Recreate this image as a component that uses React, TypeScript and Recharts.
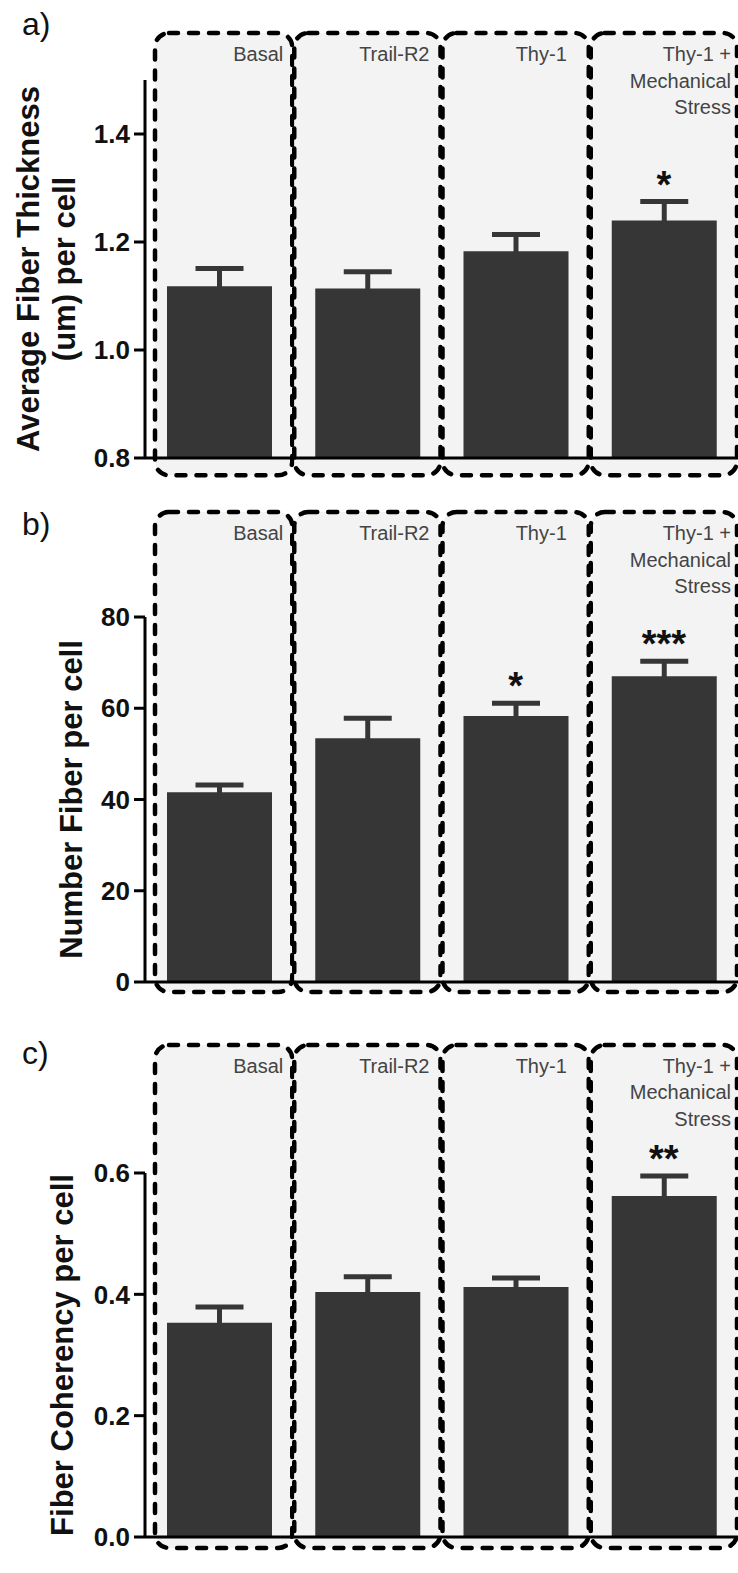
import {
  ComposedChart, Bar, ErrorBar, XAxis, YAxis, ReferenceArea, Line, LabelList,
} from "recharts";

const groups = ["Basal", "Trail-R2", "Thy-1", "Thy-1 + Mechanical Stress"];
const groupLines = [["Basal"], ["Trail-R2"], ["Thy-1"], ["Thy-1 +", "Mechanical", "Stress"]];

// a) fiber thickness
const thickMean = [1.118, 1.114, 1.183, 1.24];
const thickSem = [0.033, 0.031, 0.031, 0.035];
const thickSig = ["", "", "", "*"];
const thickTicks = [0.8, 1.0, 1.2, 1.4];

// b) fiber count
const countMean = [41.6, 53.4, 58.3, 67.0];
const countSem = [1.6, 4.4, 2.8, 3.3];
const countSig = ["", "", "*", "***"];
const countTicks = [0, 20, 40, 60, 80];

// c) coherency
const cohMean = [0.353, 0.404, 0.412, 0.562];
const cohSem = [0.026, 0.025, 0.015, 0.033];
const cohSig = ["", "", "", "**"];
const cohTicks = [0, 0.2, 0.4, 0.6];

const font = "'Liberation Sans', Arial, Helvetica, sans-serif";
const barColor = "#363636";
const labelPad = [9, 11, 22, 6];

function rows(mean: number[], sem: number[], sig: string[]) {
  return groups.map((g, i) => ({ group: g, mean: mean[i], sem: sem[i], top: mean[i] + sem[i], sig: sig[i] }));
}

function boxShape(i: number) {
  return (p: any) => {
    const left = p.x + (i === 0 ? 10 : 1);
    const right = p.x + p.width - 1;
    return (
      <g>
        <rect x={left} y={p.y} width={right - left} height={p.height} rx={14} ry={14}
          fill="#f3f3f3" stroke="#000" strokeWidth={4.5} strokeDasharray="9 11" strokeLinecap="round" />
        {groupLines[i].map((t, k) => (
          <text key={k} x={right - labelPad[i]} y={p.y + 28 + k * 26.5} textAnchor="end"
            fontSize={20} fill="#444" fontFamily={font}>{t}</text>
        ))}
      </g>
    );
  };
}

function yTitle(lines: string[], xs: number[]) {
  return (props: any) => {
    const vb = props.viewBox;
    const cy = vb.y + vb.height / 2;
    return (
      <g>
        {lines.map((t, k) => (
          <text key={k} x={xs[k]} y={cy} transform={`rotate(-90, ${xs[k]}, ${cy})`} textAnchor="middle"
            fontSize={31} fontWeight="bold" fill="#111" fontFamily={font}>{t}</text>
        ))}
      </g>
    );
  };
}

type PanelProps = {
  letter: string;
  top: number;
  height: number;
  plotTop: number;
  plotBottom: number;
  data: any[];
  domain: [number, number];
  ticks: number[];
  decimals: number;
  box: [number, number];
  title: string[];
  titleX: number[];
  letterY: number;
};

function Panel(p: PanelProps) {
  return (
    <div style={{ position: "absolute", left: 0, top: p.top, width: 738, height: p.height }}>
      <div style={{ position: "absolute", left: 22, top: p.letterY - 30, fontSize: 32, fontFamily: font, lineHeight: "36px", color: "#111" }}>
        {p.letter}
      </div>
      <ComposedChart width={738} height={p.height} data={p.data}
        margin={{ top: p.plotTop, right: 0, bottom: p.height - p.plotBottom - 30, left: 0 }}>
        {groups.map((g, i) => (
          <ReferenceArea key={g} x1={g} x2={g} y1={p.box[0]} y2={p.box[1]} ifOverflow="visible" shape={boxShape(i)} />
        ))}
        <XAxis dataKey="group" height={30} tick={false} tickSize={10} stroke="#000" strokeWidth={3} />
        <YAxis type="number" domain={p.domain} ticks={p.ticks} interval={0} allowDataOverflow width={145}
          tickSize={11} tickMargin={4} stroke="#000" strokeWidth={3}
          tick={{ fill: "#111", fontSize: 26, fontWeight: "bold", fontFamily: font }}
          tickFormatter={(v: number) => v.toFixed(p.decimals)}
          label={{ content: yTitle(p.title, p.titleX) }} />
        <Bar dataKey="mean" fill={barColor} barSize={105} isAnimationActive={false}>
          <ErrorBar dataKey="sem" width={24} strokeWidth={5} stroke={barColor} direction="y" />
        </Bar>
        <Line dataKey="top" stroke="none" dot={false} activeDot={false} isAnimationActive={false}>
          <LabelList dataKey="sig" position="top" offset={4} fill="#111" fontSize={38} fontWeight="bold" fontFamily={font} />
        </Line>
      </ComposedChart>
    </div>
  );
}

export default function App() {
  return (
    <div style={{ position: "absolute", left: 0, top: 0, width: 738, height: 1573, background: "#fff" }}>
      <Panel letter="a)" top={0} height={500} plotTop={80} plotBottom={458}
        data={rows(thickMean, thickSem, thickSig)} domain={[0.8, 1.5]} ticks={thickTicks} decimals={1}
        box={[0.768, 1.587]} title={["Average Fiber Thickness", "(um) per cell"]} titleX={[39, 75]} letterY={36} />
      <Panel letter="b)" top={500} height={530} plotTop={117} plotBottom={482}
        data={rows(countMean, countSem, countSig)} domain={[0, 80]} ticks={countTicks} decimals={0}
        box={[-2.2, 103]} title={["Number Fiber per cell"]} titleX={[82]} letterY={36} />
      <Panel letter="c)" top={1030} height={543} plotTop={143} plotBottom={507}
        data={rows(cohMean, cohSem, cohSig)} domain={[0, 0.6]} ticks={cohTicks} decimals={1}
        box={[-0.018, 0.811]} title={["Fiber Coherency per cell"]} titleX={[73]} letterY={35} />
    </div>
  );
}
